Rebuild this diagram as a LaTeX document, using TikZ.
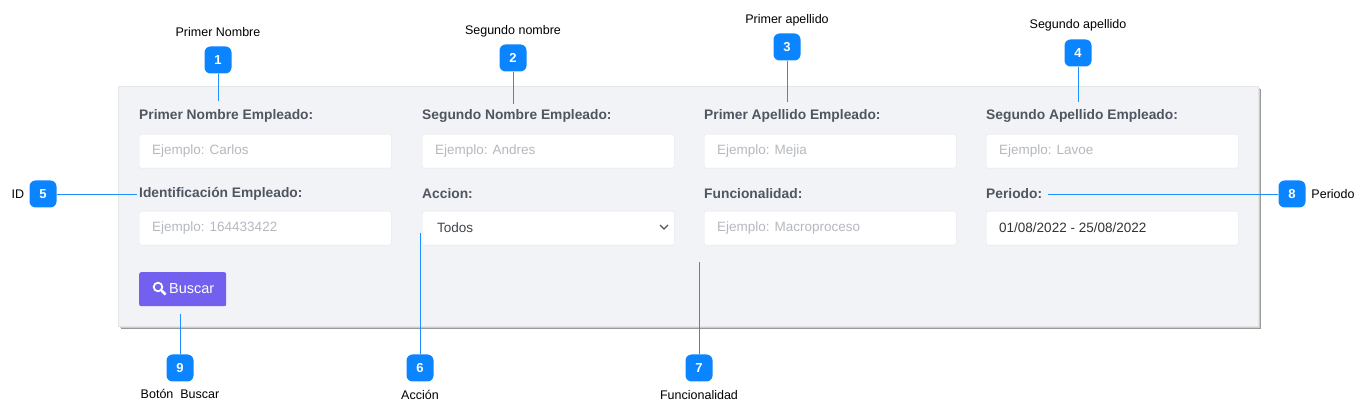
\documentclass[tikz,border=0pt]{standalone}
\usepackage{fontspec}
\setmainfont{Liberation Sans}
\begin{document}
\begin{tikzpicture}[x=1pt,y=-1pt,
  badge/.style={fill=badgeblue,rounded corners=6pt,minimum width=27pt,minimum height=27pt,text=white,font=\bfseries\fontsize{13}{15}\selectfont,inner sep=0pt},
  lab/.style={font=\fontsize{12.5}{15}\selectfont,text=black},
  flab/.style={font=\bfseries\fontsize{13.8}{16}\selectfont,text=labgray,anchor=west,inner sep=0pt},
  field/.style={draw=fieldline,fill=white,rounded corners=2pt,minimum width=252pt,minimum height=34pt,anchor=north west,inner sep=0pt},
  ph/.style={font=\fontsize{13.5}{16}\selectfont,text=phgray,anchor=west,inner sep=0pt},
  conn/.style={draw=connblue,line width=0.8pt}]
\definecolor{badgeblue}{HTML}{0A84FF}
\definecolor{connblue}{HTML}{1E90FF}
\definecolor{labgray}{HTML}{4F5661}
\definecolor{phgray}{HTML}{B5B9BF}
\definecolor{fieldline}{HTML}{E3E5EA}
\definecolor{panel}{HTML}{F2F3F7}
\definecolor{btn}{HTML}{7460EE}
\useasboundingbox (0,0) rectangle (1371,419);
\fill[black!40] (121,89) rectangle (1261,329);
\fill[black!20] (120,88) rectangle (1260,328);
\node[fill=panel,draw=black!10,minimum width=1140pt,minimum height=240pt,anchor=north west,inner sep=0pt] (panel) at (118,86) {};
% row 1
\node[flab] (l1) at (139,116) {Primer Nombre Empleado:};
\node[flab] (l2) at (422,116) {Segundo Nombre Empleado:};
\node[flab] (l3) at (704,116) {Primer Apellido Empleado:};
\node[flab] (l4) at (986,116) {Segundo Apellido Empleado:};
\node[field] (f1) at (139,134) {}; \node[ph] at (152,151) {Ejemplo: Carlos};
\node[field] (f2) at (422,134) {}; \node[ph] at (435,151) {Ejemplo: Andres};
\node[field] (f3) at (704,134) {}; \node[ph] at (717,151) {Ejemplo: Mejia};
\node[field] (f4) at (986,134) {}; \node[ph] at (999,151) {Ejemplo: Lavoe};
% row 2
\node[flab] (l5) at (139,194) {Identificación Empleado:};
\node[flab] (l6) at (422,194) {Accion:};
\node[flab] (l7) at (704,194) {Funcionalidad:};
\node[flab] (l8) at (986,194) {Periodo:};
\node[field] (f5) at (139,211) {}; \node[ph] at (152,228) {Ejemplo: 164433422};
\node[field] (f6) at (422,211) {}; \node[ph,text=labgray!80!black] at (437,228) {Todos};
\draw[labgray,line width=1.2pt] (660,225) -- (664,229) -- (668,225);
\node[field] (f7) at (704,211) {}; \node[ph] at (717,228) {Ejemplo: Macroproceso};
\node[field] (f8) at (986,211) {}; \node[ph,text=black!80] at (999,228) {01/08/2022 - 25/08/2022};
% button
\node[fill=btn,rounded corners=2pt,minimum width=87pt,minimum height=34pt,anchor=north west,inner sep=0pt] (btn) at (139,272) {};
\draw[white,line width=1.8pt] (158,287) circle (4.3pt);
\draw[white,line width=2.6pt] (161.5,290.5) -- (165.5,294.5);
\node[font=\fontsize{14.5}{16}\selectfont,text=white,anchor=west,inner sep=0pt] at (169,289) {Buscar};
% badges
\node[badge] (b1) at (218,60) {1};
\node[badge] (b2) at (513,58) {2};
\node[badge] (b3) at (787,47) {3};
\node[badge] (b4) at (1078,53) {4};
\node[badge] (b5) at (43,194) {5};
\node[badge] (b6) at (420,368) {6};
\node[badge] (b7) at (699,368) {7};
\node[badge] (b8) at (1292,194) {8};
\node[badge] (b9) at (180,368) {9};
\coordinate (c1) at (218,101); \coordinate (c2) at (513,104);
\coordinate (c3) at (787,102); \coordinate (c4) at (1078,102);
\coordinate (c5) at (137,194); \coordinate (c8) at (1048,194);
\coordinate (c6) at (420,233); \coordinate (c7) at (699,262);
\coordinate (c9) at (180,314);
\foreach \i in {1,...,9} {\draw[conn] (b\i) -- (c\i);}
% labels
\node[lab] at (218,32) {Primer Nombre};
\node[lab] at (513,31) {Segundo nombre};
\node[lab] at (787,20) {Primer apellido};
\node[lab] at (1078,25) {Segundo apellido};
\node[lab] at (18,194) {ID};
\node[lab] at (1333,194) {Periodo};
\node[lab] at (180,394) {Botón\ \ Buscar};
\node[lab] at (420,395) {Acción};
\node[lab] at (699,395) {Funcionalidad};
\end{tikzpicture}
\end{document}
